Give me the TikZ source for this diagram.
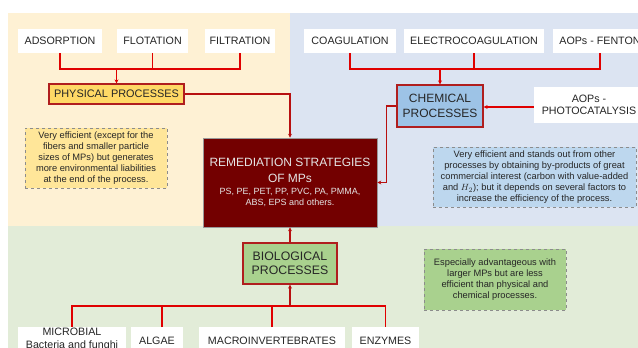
\documentclass[tikz,border=0pt]{standalone}
\usepackage{fontspec}
\setmainfont{Liberation Sans}
\usetikzlibrary{arrows.meta}
\definecolor{bgbeige}{HTML}{FEF1D4}
\definecolor{bgblue}{HTML}{DCE4F2}
\definecolor{bggreen}{HTML}{E2ECD8}
\definecolor{physfill}{HTML}{FFD966}
\definecolor{notebeige}{HTML}{FFE699}
\definecolor{chemfill}{HTML}{9DC3E6}
\definecolor{noteblue}{HTML}{BDD7EE}
\definecolor{biofill}{HTML}{A9D18E}
\definecolor{remfill}{HTML}{730000}
\definecolor{conn}{HTML}{E00000}
\definecolor{dconn}{HTML}{B81010}
\definecolor{bord}{HTML}{B01E1E}
\definecolor{txt}{HTML}{262626}
\tikzset{
  wbox/.style={rectangle, fill=white, inner sep=0pt, align=center, text=txt, font=\fontsize{10.7}{12.5}\selectfont},
  procbox/.style={rectangle, draw=bord, line width=1.2pt, inner sep=0pt, align=center, text=txt, font=\fontsize{10.9}{13}\selectfont},
  notebox/.style={rectangle, draw=black!45, dashed, line width=0.5pt, inner sep=0pt, align=center, text=txt, font=\fontsize{9.3}{11.2}\selectfont},
  cline/.style={draw=conn, line width=1.1pt},
  carrow/.style={draw=conn, line width=1.1pt, -{Stealth[length=4pt,width=4pt]}},
  darrow/.style={draw=dconn, line width=1.1pt, -{Stealth[length=4pt,width=4pt]}},
}
\begin{document}
\begin{tikzpicture}[x=1pt,y=-1pt]
\useasboundingbox (0,0) rectangle (638,348);
\clip (0,0) rectangle (638,348);
% backgrounds
\fill[bgbeige] (8,13) rectangle (290,226);
\fill[bgblue] (290,13) rectangle (638,226);
\fill[bggreen] (8,226) rectangle (638,348);

% top physical
\node[wbox, minimum width=84, minimum height=24] (ads) at (60,41) {ADSORPTION};
\node[wbox, minimum width=71, minimum height=24] (flo) at (152.5,41) {FLOTATION};
\node[wbox, minimum width=70, minimum height=24] (fil) at (240,41) {FILTRATION};
\node[procbox, fill=physfill, minimum width=135, minimum height=20] (phys) at (116.5,94) {PHYSICAL PROCESSES};
\coordinate (jp) at (116.5,69);
\draw[cline] (ads.south) |- (jp) -| (fil.south);
\draw[cline] (flo.south) -- (flo.south |- jp);
\draw[carrow] (jp) -- (phys.north);

% chemical
\node[wbox, minimum width=92, minimum height=24] (coa) at (350,41) {COAGULATION};
\node[wbox, minimum width=140, minimum height=24] (ele) at (474,41) {ELECTROCOAGULATION};
\node[wbox, minimum width=94, minimum height=24] (fen) at (600,41) {AOPs - FENTON};
\node[procbox, fill=chemfill, minimum width=86, minimum height=42, font=\fontsize{12}{14.5}\selectfont] (chem) at (440,106) {CHEMICAL\\PROCESSES};
\node[wbox, minimum width=110, minimum height=36] (photo) at (589,105) {AOPs -\\PHOTOCATALYSIS};
\coordinate (jc) at (440,69);
\draw[cline] (coa.south) |- (jc) -| (fen.south);
\draw[cline] (ele.south) -- (ele.south |- jc);
\draw[carrow] (jc) -- (chem.north);
\draw[carrow] (photo.west |- 0,107) -- (chem.east |- 0,107);

% remediation
\node[rectangle, draw=black!40, line width=0.6pt, fill=remfill, minimum width=174, minimum height=89, align=center, text=white!90!black, inner sep=0pt, font=\fontsize{12}{14.5}\selectfont] (rem) at (290,182.5) {REMEDIATION STRATEGIES\\[1pt]OF MPs\\[-2pt]\fontsize{9}{12}\selectfont PS, PE, PET, PP, PVC, PA, PMMA,\\[-4pt]\fontsize{9}{12}\selectfont ABS, EPS and others.};
\draw[darrow] (phys.east) -| (rem.north);
\draw[darrow] (chem.west) -- ++(-10,0) |- (rem.east);

% notes
\node[notebox, fill=notebeige, minimum width=142, minimum height=60] (nphys) at (96,158)
 {Very efficient (except for the\\fibers and smaller particle\\sizes of MPs) but generates\\more environmental liabilities\\at the end of the process.};
\node[notebox, fill=noteblue, minimum width=203, minimum height=60] (nchem) at (534.5,177)
 {Very efficient and stands out from other\\processes by obtaining by-products of great\\commercial interest (carbon with value-added\\and $H_2$); but it depends on several factors to\\increase the efficiency of the process.};

% biological
\node[procbox, fill=biofill, minimum width=94, minimum height=41, font=\fontsize{12.3}{14.5}\selectfont] (bio) at (290,263.5) {BIOLOGICAL\\PROCESSES};
\draw[darrow] (bio.north) -- (rem.south);
\node[notebox, fill=biofill, minimum width=142, minimum height=61] (nbio) at (495,279.5)
 {Especially advantageous with\\larger MPs but are less\\efficient than physical and\\chemical processes.};

\node[wbox, anchor=north, minimum width=108, minimum height=24, font=\fontsize{10.7}{12.5}\selectfont] (mic) at (72,327) {MICROBIAL\\Bacteria and funghi};
\node[wbox, anchor=north, minimum width=52, minimum height=28] (alg) at (157,327) {ALGAE};
\node[wbox, anchor=north, minimum width=146, minimum height=28] (mac) at (272,327) {MACROINVERTEBRATES};
\node[wbox, anchor=north, minimum width=67, minimum height=28] (enz) at (385.5,327) {ENZYMES};
\coordinate (jb) at (290,306);
\coordinate (algtop) at (162,327);
\draw[cline] (mic.north) |- (jb) -| (enz.north);
\draw[cline] (algtop) -- (algtop |- jb);
\draw[cline] (mac.north) -- (mac.north |- jb);
\draw[darrow] (jb) -- (bio.south);
\end{tikzpicture}
\end{document}
